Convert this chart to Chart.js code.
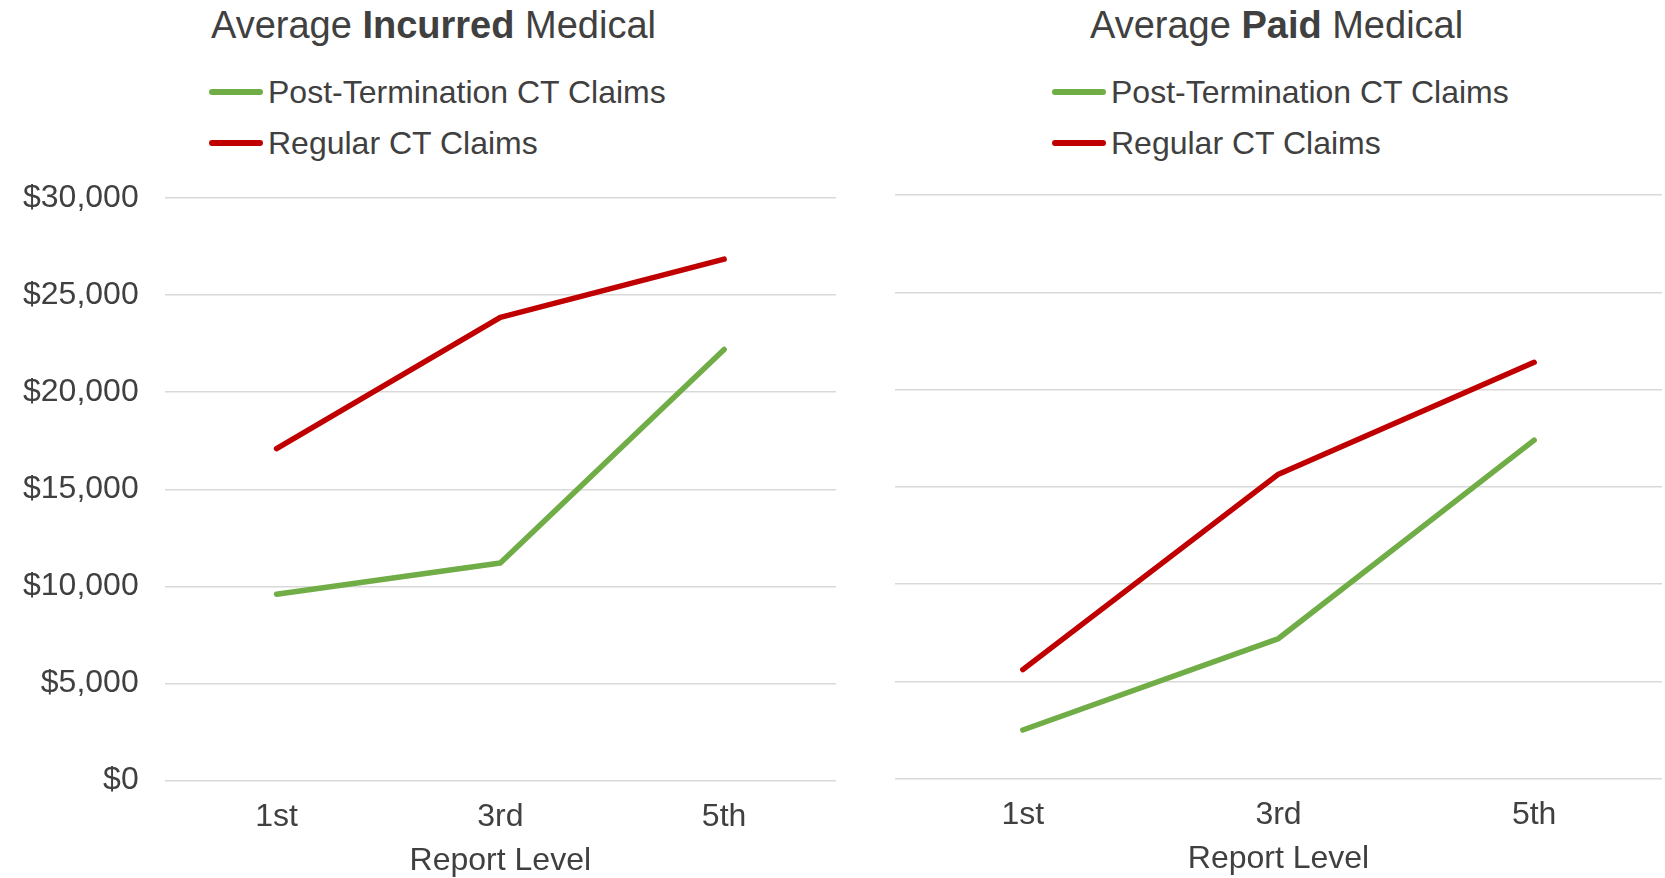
<!DOCTYPE html>
<html lang="en">
<head>
<meta charset="UTF-8">
<title>Average Incurred and Paid Medical</title>
<script src="https://cdn.jsdelivr.net/npm/chart.js"></script>
<style>
  html, body { margin: 0; padding: 0; background: #fff; overflow: hidden; }
  body { width: 1665px; height: 878px; position: relative; font-family: "Liberation Sans", Arial, sans-serif; color: #404040; }
  .title { position: absolute; top: 6px; font-size: 38px; line-height: 38px; white-space: nowrap; }
  .legend { position: absolute; font-size: 32px; }
  .legend .row { position: absolute; left: 0; height: 40px; display: flex; align-items: center; white-space: nowrap; }
  .legend .swatch { width: 54px; height: 6px; border-radius: 3px; margin-right: 5px; }
  .box { position: absolute; top: 0; height: 878px; }
</style>
</head>
<body>
<div class="title" style="left:211px">Average <b>Incurred</b> Medical</div>
<div class="title" style="left:1090px">Average <b>Paid</b> Medical</div>
<div class="legend" id="legendLeft" style="left:209px; top:0"></div>
<div class="legend" id="legendRight" style="left:1052px; top:0"></div>
<div class="box" style="left:0; width:840px"><canvas id="incurredChart"></canvas></div>
<div class="box" style="left:840px; width:825px"><canvas id="paidChart"></canvas></div>
<script>
const reportLevels = ['1st', '3rd', '5th'];
const seriesNames = ['Post-Termination CT Claims', 'Regular CT Claims'];
const seriesColors = ['#70AD47', '#C00000'];
const incurredPostTerm = [9600, 11200, 22200];
const incurredRegular = [17100, 23850, 26850];
const paidPostTerm = [2500, 7200, 17400];
const paidRegular = [5600, 15650, 21400];
const yTicks = [0, 5000, 10000, 15000, 20000, 25000, 30000];

const textColor = '#404040';
const fontFamily = '"Liberation Sans", Arial, sans-serif';

function buildLegend(id) {
  const el = document.getElementById(id);
  const rowTops = [72, 123];
  seriesNames.forEach((name, i) => {
    const row = document.createElement('div');
    row.className = 'row';
    row.style.top = rowTops[i] + 'px';
    row.innerHTML = '<span class="swatch" style="background:' + seriesColors[i] + '"></span><span>' + name + '</span>';
    el.appendChild(row);
  });
}
buildLegend('legendLeft');
buildLegend('legendRight');

function makeChart(canvasId, postTerm, regular, showYLabels, padding) {
  const datasets = [postTerm, regular].map((vals, i) => ({
    label: seriesNames[i],
    data: vals,
    borderColor: seriesColors[i],
    backgroundColor: seriesColors[i],
    borderWidth: 5.5,
    borderCapStyle: 'round',
    borderJoinStyle: 'round',
    pointRadius: 0,
    tension: 0,
    fill: false
  }));
  return new Chart(document.getElementById(canvasId), {
    type: 'line',
    data: { labels: reportLevels, datasets: datasets },
    options: {
      responsive: true,
      maintainAspectRatio: false,
      animation: false,
      layout: { padding: padding },
      plugins: { legend: { display: false }, title: { display: false }, tooltip: { enabled: false } },
      scales: {
        x: {
          offset: true,
          grid: { display: false, drawTicks: false },
          border: { display: false },
          ticks: { color: textColor, padding: 17, font: { family: fontFamily, size: 32, lineHeight: 1.2 } },
          title: { display: true, text: 'Report Level', color: textColor, padding: { top: -8, bottom: 0 }, font: { family: fontFamily, size: 32, lineHeight: 1.0 } }
        },
        y: {
          min: 0,
          max: 30000,
          afterBuildTicks: axis => { axis.ticks = yTicks.map(v => ({ value: v })); },
          grid: { color: '#d9d9d9', lineWidth: 1.5, drawTicks: false },
          border: { display: false },
          ticks: {
            display: showYLabels,
            color: textColor,
            padding: 26,
            font: { family: fontFamily, size: 32 },
            callback: v => '$' + Number(v).toLocaleString('en-US')
          }
        }
      }
    }
  });
}

makeChart('incurredChart', incurredPostTerm, incurredRegular, true, { top: 198, left: -3, right: 4, bottom: 1 });
makeChart('paidChart', paidPostTerm, paidRegular, false, { top: 195, left: 55, right: 3, bottom: 3 });
</script>
</body>
</html>
